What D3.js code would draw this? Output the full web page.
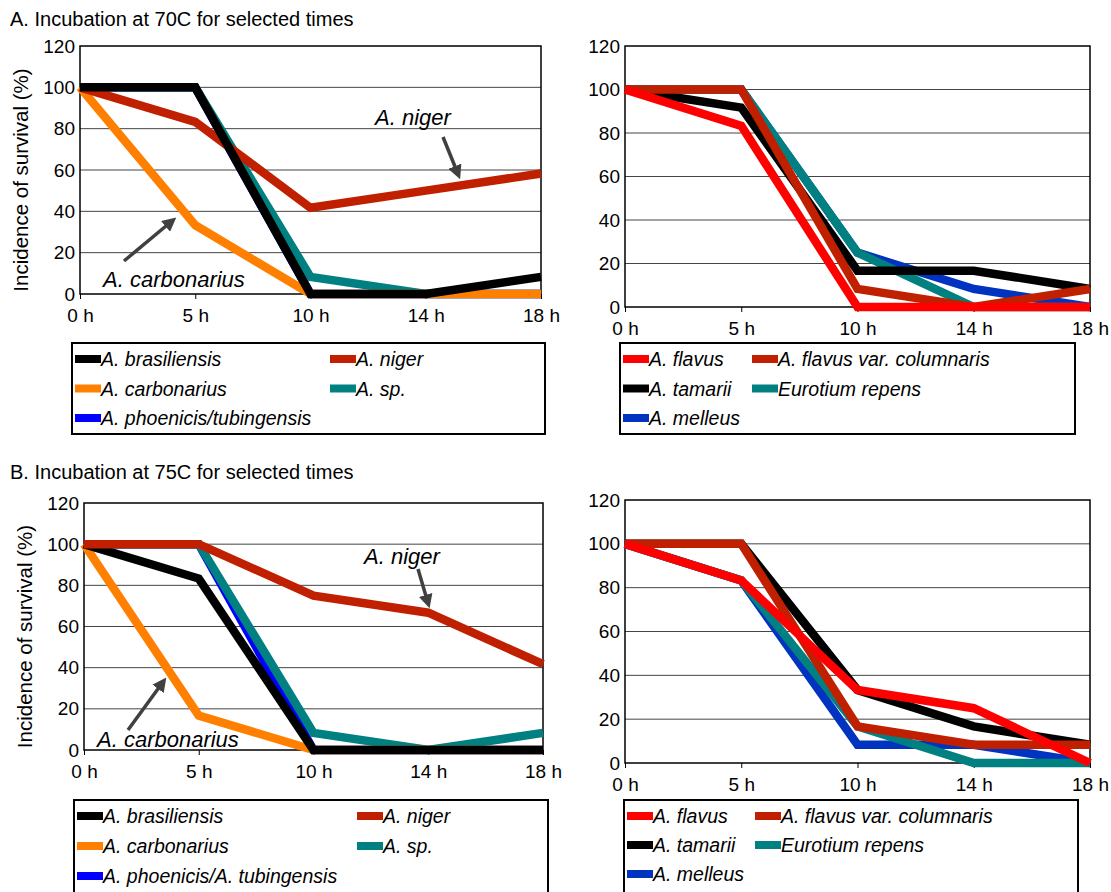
<!DOCTYPE html>
<html>
<head>
<meta charset="utf-8">
<script src="https://cdn.jsdelivr.net/npm/d3@7"></script>
<style>
  body { margin: 0; background: #fff; }
  text { font-family: "Liberation Sans", Arial, sans-serif; }
</style>
</head>
<body>
<svg id="chart" width="1111" height="892"></svg>
<script>
// time points (categories)
const times = ["0 h", "5 h", "10 h", "14 h", "18 h"];
const yTicks = [0, 20, 40, 60, 80, 100, 120];

// A. 70C, left panel
const a70Brasiliensis = [100, 100, 0, 0, 8.3];
const a70Niger        = [100, 83.3, 41.7, 50, 58.3];
const a70Carbonarius  = [100, 33.3, 0, 0, 0];
const a70Sp           = [100, 100, 8.3, 0, 0];
const a70Phoenicis    = [100, 100, 0, 0, 0];
// A. 70C, right panel
const a70Flavus       = [100, 83.3, 0, 0, 0];
const a70Columnaris   = [100, 100, 8.3, 0, 8.3];
const a70Tamarii      = [100, 91.7, 16.7, 16.7, 8.3];
const a70Eurotium     = [100, 100, 25, 0, 0];
const a70Melleus      = [100, 100, 25, 8.3, 0];

// B. 75C, left panel
const b75Brasiliensis = [100, 83.3, 0, 0, 0];
const b75Niger        = [100, 100, 75, 66.7, 41.7];
const b75Carbonarius  = [100, 16.7, 0, 0, 0];
const b75Sp           = [100, 100, 8.3, 0, 8.3];
const b75Phoenicis    = [100, 100, 0, 0, 0];
// B. 75C, right panel
const b75Flavus       = [100, 83.3, 33.3, 25, 0];
const b75Columnaris   = [100, 100, 16.7, 8.3, 8.3];
const b75Tamarii      = [100, 100, 33.3, 16.7, 8.3];
const b75Eurotium     = [100, 83.3, 16.7, 0, 0];
const b75Melleus      = [100, 83.3, 8.3, 8.3, 0];

const col = {
  black: "#000000", niger: "#C02000", orange: "#FF8000", teal: "#008080",
  blue: "#0000FF", melleus: "#0033C0", red: "#FF0000"
};

const svg = d3.select("#chart");

svg.append("text").attr("x", 10).attr("y", 26).style("font-size", "20px")
   .text("A. Incubation at 70C for selected times");
svg.append("text").attr("x", 10).attr("y", 479).style("font-size", "20px")
   .text("B. Incubation at 75C for selected times");

// draw one chart panel; series listed in drawing order (bottom first)
function panel(p) {
  const x = d3.scalePoint().domain(times).range([p.left, p.right]);
  const y = d3.scaleLinear().domain([0, 120]).range([p.bottom, p.top]);
  const g = svg.append("g");

  g.selectAll(".grid").data(yTicks.filter(d => d > 0 && d < 120)).enter()
    .append("line")
      .attr("x1", p.left).attr("x2", p.right)
      .attr("y1", d => y(d)).attr("y2", d => y(d))
      .attr("stroke", "#444").attr("stroke-width", 1);

  g.append("rect")
      .attr("x", p.left).attr("y", p.top)
      .attr("width", p.right - p.left).attr("height", p.bottom - p.top)
      .attr("fill", "none").attr("stroke", "#000").attr("stroke-width", 1.5);

  const yAxis = g.append("g")
      .attr("transform", `translate(${p.left},0)`)
      .call(d3.axisLeft(y).tickValues(yTicks).tickSize(0).tickPadding(5));
  yAxis.select(".domain").remove();
  yAxis.selectAll("text").style("font-size", "19px").attr("fill", "#000")
       .style("font-family", "Liberation Sans, Arial, sans-serif");

  const xAxis = g.append("g")
      .attr("transform", `translate(0,${p.bottom})`)
      .call(d3.axisBottom(x).tickSize(5).tickPadding(10));
  xAxis.select(".domain").remove();
  xAxis.selectAll("text").style("font-size", "19px").attr("fill", "#000")
       .style("font-family", "Liberation Sans, Arial, sans-serif");

  const line = d3.line().x((d, i) => x(times[i])).y(d => y(d));
  p.draw.forEach(s => {
    g.append("path").datum(s.values)
      .attr("d", line).attr("fill", "none")
      .attr("stroke", s.color).attr("stroke-width", 8.5)
      .attr("stroke-linejoin", "miter").attr("stroke-linecap", "butt");
  });

  if (p.yTitle) {
    g.append("text")
      .attr("transform", `translate(${p.left - 52},${(p.top + p.bottom) / 2 + 10}) rotate(-90)`)
      .attr("text-anchor", "middle").style("font-size", "20.5px")
      .text("Incidence of survival (%)");
  }

  // legend
  const L = p.legend;
  g.append("rect").attr("x", L.x).attr("y", L.y).attr("width", L.w).attr("height", L.h)
    .attr("fill", "#fff").attr("stroke", "#000").attr("stroke-width", 2);
  L.items.forEach((it, i) => {
    const cx = L.x + 3 + (i % 2) * L.colW;
    const cy = L.y + 16 + Math.floor(i / 2) * L.rowH;
    g.append("line").attr("x1", cx).attr("x2", cx + 26).attr("y1", cy).attr("y2", cy)
      .attr("stroke", it.color).attr("stroke-width", 8);
    g.append("text").attr("x", cx + 26).attr("y", cy + 7)
      .style("font-size", "19.5px").style("font-style", "italic").text(it.name);
  });

  (p.notes || []).forEach(n => {
    g.append("text").attr("x", n.tx).attr("y", n.ty)
      .style("font-size", "22px").style("font-style", "italic").text(n.text);
    g.append("line").attr("x1", n.x1).attr("y1", n.y1).attr("x2", n.x2).attr("y2", n.y2)
      .attr("stroke", "#404040").attr("stroke-width", 3.5)
      .attr("marker-end", "url(#arrow)");
  });
}

svg.append("defs").append("marker")
    .attr("id", "arrow").attr("viewBox", "0 0 10 10")
    .attr("refX", 6).attr("refY", 5)
    .attr("markerWidth", 4).attr("markerHeight", 4).attr("orient", "auto")
  .append("path").attr("d", "M0,0 L10,5 L0,10 z").attr("fill", "#404040");

const leftItems = (last) => [
  { name: "A. brasiliensis", color: col.black },
  { name: "A. niger", color: col.niger },
  { name: "A. carbonarius", color: col.orange },
  { name: "A. sp.", color: col.teal },
  { name: last, color: col.blue }
];
const rightItems = [
  { name: "A. flavus", color: col.red },
  { name: "A. flavus var. columnaris", color: col.niger },
  { name: "A. tamarii", color: col.black },
  { name: "Eurotium repens", color: col.teal },
  { name: "A. melleus", color: col.melleus }
];

panel({
  left: 80, right: 541, top: 46, bottom: 294, yTitle: true,
  draw: [
    { values: a70Phoenicis, color: col.blue },
    { values: a70Sp, color: col.teal },
    { values: a70Carbonarius, color: col.orange },
    { values: a70Niger, color: col.niger },
    { values: a70Brasiliensis, color: col.black }
  ],
  legend: { x: 72, y: 343, w: 473, h: 91, colW: 255, rowH: 29.5, items: leftItems("A. phoenicis/tubingensis") },
  notes: [
    { text: "A. niger", tx: 375, ty: 125, x1: 443, x2: 458, y1: 137, y2: 174 },
    { text: "A. carbonarius", tx: 103, ty: 287, x1: 124, x2: 172, y1: 261, y2: 221 }
  ]
});

panel({
  left: 625, right: 1090, top: 46, bottom: 307,
  draw: [
    { values: a70Melleus, color: col.melleus },
    { values: a70Eurotium, color: col.teal },
    { values: a70Tamarii, color: col.black },
    { values: a70Columnaris, color: col.niger },
    { values: a70Flavus, color: col.red }
  ],
  legend: { x: 620, y: 343, w: 455, h: 91, colW: 129, rowH: 29.5, items: rightItems }
});

panel({
  left: 84, right: 543, top: 503, bottom: 750, yTitle: true,
  draw: [
    { values: b75Phoenicis, color: col.blue },
    { values: b75Sp, color: col.teal },
    { values: b75Carbonarius, color: col.orange },
    { values: b75Brasiliensis, color: col.black },
    { values: b75Niger, color: col.niger }
  ],
  legend: { x: 74, y: 800, w: 474, h: 94, colW: 280, rowH: 30, items: leftItems("A. phoenicis/A. tubingensis") },
  notes: [
    { text: "A. niger", tx: 364, ty: 564, x1: 418, x2: 428, y1: 569, y2: 603 },
    { text: "A. carbonarius", tx: 97, ty: 747, x1: 128, x2: 163, y1: 730, y2: 682 }
  ]
});

panel({
  left: 625, right: 1090, top: 500, bottom: 763,
  draw: [
    { values: b75Melleus, color: col.melleus },
    { values: b75Eurotium, color: col.teal },
    { values: b75Tamarii, color: col.black },
    { values: b75Columnaris, color: col.niger },
    { values: b75Flavus, color: col.red }
  ],
  legend: { x: 624, y: 800, w: 454, h: 94, colW: 128, rowH: 29, items: rightItems }
});
</script>
</body>
</html>
